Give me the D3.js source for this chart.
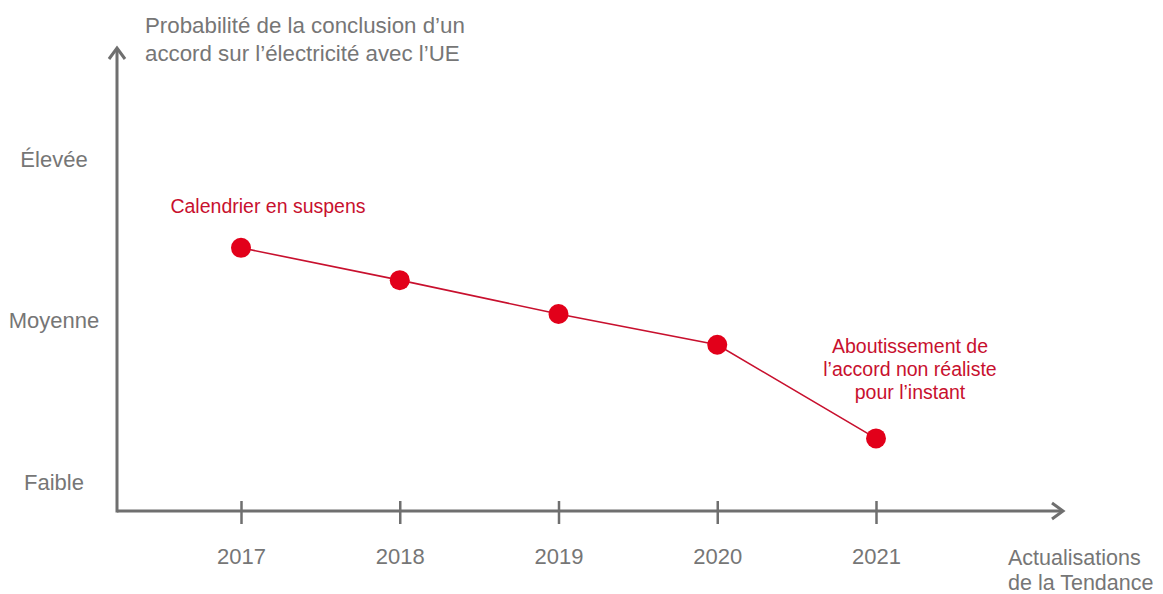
<!DOCTYPE html>
<html>
<head>
<meta charset="utf-8">
<script src="https://cdn.jsdelivr.net/npm/d3@7"></script>
<style>
  body { margin: 0; background: #fff; }
  svg { display: block; font-family: Arial, "Liberation Sans", sans-serif; }
</style>
</head>
<body>
<svg id="chart" width="1163" height="594"></svg>
<script>
const years = [2017, 2018, 2019, 2020, 2021];
const probability = [1.45, 1.25, 1.04, 0.85, 0.27];
const levelLabels = ["Faible", "Moyenne", "Élevée"];
const levelValues = [0, 1, 2];
const titleLines = ["Probabilité de la conclusion d’un", "accord sur l’électricité avec l’UE"];
const xTitleLines = ["Actualisations", "de la Tendance"];
const notes = [
  { year: 2017, value: 1.45, lines: ["Calendrier en suspens"], dx: 27, dy: -42 },
  { year: 2021, value: 0.27, lines: ["Aboutissement de", "l’accord non réaliste", "pour l’instant"], dx: 34, dy: -92 }
];

const gray = "#767676";
const axisGray = "#6f6f6f";
const red = "#e2001a";
const lineRed = "#c8102e";

const svg = d3.select("#chart");

const originX = 117, originY = 511;
const xEnd = 1063, yEnd = 48;

const x = d3.scaleLinear().domain([2017, 2021]).range([241, 876]);
const y = d3.scaleLinear().domain([0, 2]).range([482, 159]);

// axes with open arrow heads
svg.append("line")
  .attr("x1", originX).attr("y1", originY)
  .attr("x2", xEnd).attr("y2", originY)
  .attr("stroke", axisGray).attr("stroke-width", 3);
svg.append("path")
  .attr("d", `M${xEnd - 11},${originY - 8} L${xEnd},${originY} L${xEnd - 11},${originY + 8}`)
  .attr("fill", "none").attr("stroke", axisGray).attr("stroke-width", 3);

svg.append("line")
  .attr("x1", originX).attr("y1", originY + 1.5)
  .attr("x2", originX).attr("y2", yEnd)
  .attr("stroke", axisGray).attr("stroke-width", 3);
svg.append("path")
  .attr("d", `M${originX - 8},${yEnd + 11} L${originX},${yEnd} L${originX + 8},${yEnd + 11}`)
  .attr("fill", "none").attr("stroke", axisGray).attr("stroke-width", 3);

// x ticks
const xAxis = d3.axisBottom(x).tickValues(years).tickFormat(d => d).tickSizeInner(13).tickSizeOuter(0);
const gx = svg.append("g").attr("transform", `translate(0,${originY})`).call(xAxis);
gx.select(".domain").remove();
gx.selectAll(".tick line").attr("y1", -10).attr("y2", 13).attr("stroke", axisGray).attr("stroke-width", 2.5);
gx.selectAll(".tick text")
  .attr("y", 53).attr("dy", 0)
  .attr("fill", gray).attr("font-size", 22)
  .attr("font-family", "Arial, 'Liberation Sans', sans-serif");

// y levels
svg.append("g").selectAll("text")
  .data(levelValues)
  .join("text")
  .attr("x", 54)
  .attr("y", d => y(d))
  .attr("dy", "0.35em")
  .attr("text-anchor", "middle")
  .attr("fill", gray)
  .attr("font-size", 22)
  .text((d, i) => levelLabels[i]);

// titles
svg.append("text")
  .attr("x", 145).attr("y", 33)
  .attr("fill", gray).attr("font-size", 22.3)
  .selectAll("tspan").data(titleLines).join("tspan")
  .attr("x", 145).attr("dy", (d, i) => i === 0 ? 0 : 28)
  .text(d => d);

svg.append("text")
  .attr("x", 1008).attr("y", 565)
  .attr("fill", gray).attr("font-size", 21.5)
  .selectAll("tspan").data(xTitleLines).join("tspan")
  .attr("x", 1008).attr("dy", (d, i) => i === 0 ? 0 : 25)
  .text(d => d);

// line + points
const data = years.map((yr, i) => ({ year: yr, value: probability[i] }));

svg.append("path")
  .datum(data)
  .attr("fill", "none")
  .attr("stroke", lineRed)
  .attr("stroke-width", 1.6)
  .attr("d", d3.line().x(d => x(d.year)).y(d => y(d.value)));

svg.append("g").selectAll("circle")
  .data(data)
  .join("circle")
  .attr("cx", d => x(d.year))
  .attr("cy", d => y(d.value))
  .attr("r", 10)
  .attr("fill", red);

// annotations
notes.forEach(n => {
  const cx = x(n.year) + n.dx;
  svg.append("text")
    .attr("x", cx).attr("y", y(n.value) + n.dy)
    .attr("text-anchor", "middle")
    .attr("fill", lineRed).attr("font-size", 19.5)
    .selectAll("tspan").data(n.lines).join("tspan")
    .attr("x", cx).attr("dy", (d, i) => i === 0 ? "0.35em" : 23)
    .text(d => d);
});
</script>
</body>
</html>
